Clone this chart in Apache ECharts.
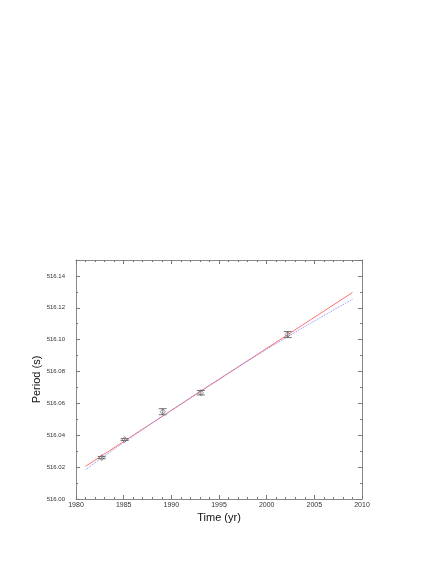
<!DOCTYPE html>
<html>
<head>
<meta charset="utf-8">
<script src="https://cdn.jsdelivr.net/npm/echarts@6/dist/echarts.min.js"></script>
<style>
  html, body { margin: 0; padding: 0; background: #fff; }
  #chart { width: 436px; height: 564px; }
</style>
</head>
<body>
<div id="chart"></div>
<script>
  // measured periods: [year, period, error]
  var obsYear = [1982.7, 1985.1, 1989.1, 1993.1, 2002.2]
  var obsPeriod = [516.0260, 516.0373, 516.0548, 516.0667, 516.1032]
  var obsErr = [0.0007, 0.0006, 0.0019, 0.0014, 0.0019]

  // linear fit (red solid)
  var linYear = [1981, 2009]
  var linPeriod = [516.0205, 516.1296]

  // quadratic fit (blue dotted)
  var quadYear = [1981, 1985, 1990, 1995, 2000, 2005, 2009]
  var quadPeriod = [516.0184, 516.0354, 516.0557, 516.0753, 516.0939, 516.1117, 516.1253]

  var font = 'Liberation Sans, Arial, sans-serif'
  var chart = echarts.init(document.getElementById('chart'))

  var obsData = []
  for (var i = 0; i < obsYear.length; i++) {
    obsData.push([obsYear[i], obsPeriod[i], obsErr[i]])
  }
  var linData = []
  for (var i = 0; i < linYear.length; i++) linData.push([linYear[i], linPeriod[i]])
  var quadData = []
  for (var i = 0; i < quadYear.length; i++) quadData.push([quadYear[i], quadPeriod[i]])

  function axisCommon() {
    return {
      axisLine: { show: true, lineStyle: { color: '#888', width: 1 } },
      axisTick: { show: true, inside: true, length: 4, lineStyle: { color: '#777' } },
      minorTick: { show: true, length: 2, lineStyle: { color: '#777' } },
      splitLine: { show: false }
    }
  }

  var xBottom = Object.assign(axisCommon(), {
    type: 'value', position: 'bottom', min: 1980, max: 2010, interval: 5,
    name: 'Time (yr)', nameLocation: 'middle', nameGap: 13, nameMoveOverlap: false,
    nameTextStyle: { fontFamily: font, fontSize: 11, color: '#111' },
    axisLabel: {
      fontFamily: font, fontSize: 7, color: '#333', margin: 3,
      formatter: function (v) { return String(v) }
    }
  })
  xBottom.minorTick.splitNumber = 5
  var xTop = Object.assign(axisCommon(), {
    type: 'value', position: 'top', min: 1980, max: 2010, interval: 5,
    axisLabel: { show: false }
  })
  xTop.minorTick.splitNumber = 5

  var yLeft = Object.assign(axisCommon(), {
    type: 'value', position: 'left', min: 516.00, max: 516.15, interval: 0.02,
    name: 'Period (s)', nameLocation: 'middle', nameGap: 34, nameMoveOverlap: false,
    nameTextStyle: { fontFamily: font, fontSize: 11, color: '#111' },
    axisLabel: {
      fontFamily: font, fontSize: 6, color: '#333', margin: 11,
      formatter: function (v) { return v > 516.145 ? '' : v.toFixed(2) }
    }
  })
  yLeft.minorTick.splitNumber = 2
  var yRight = Object.assign(axisCommon(), {
    type: 'value', position: 'right', min: 516.00, max: 516.15, interval: 0.02,
    axisLabel: { show: false }
  })
  yRight.minorTick.splitNumber = 2

  chart.setOption({
    animation: false,
    backgroundColor: '#fff',
    grid: { left: 76, right: 74, top: 260, bottom: 65, containLabel: false },
    xAxis: [xBottom, xTop],
    yAxis: [yLeft, yRight],
    series: [
      {
        name: 'linear',
        type: 'line',
        data: linData,
        showSymbol: false,
        lineStyle: { color: '#ff7070', width: 1 },
        z: 3
      },
      {
        name: 'quadratic',
        type: 'line',
        data: quadData,
        smooth: true,
        showSymbol: false,
        lineStyle: { color: '#8a8aff', width: 1, type: [1, 1] },
        z: 3
      },
      {
        name: 'err',
        type: 'custom',
        data: obsData,
        z: 4,
        renderItem: function (params, api) {
          var x = api.value(0), y = api.value(1), e = api.value(2)
          var top = api.coord([x, y + e])
          var bot = api.coord([x, y - e])
          var hw = 4
          var st = { stroke: '#777', lineWidth: 1 }
          return {
            type: 'group',
            children: [
              { type: 'line', shape: { x1: top[0], y1: top[1], x2: bot[0], y2: bot[1] }, style: st },
              { type: 'line', shape: { x1: top[0] - hw, y1: top[1], x2: top[0] + hw, y2: top[1] }, style: st },
              { type: 'line', shape: { x1: bot[0] - hw, y1: bot[1], x2: bot[0] + hw, y2: bot[1] }, style: st }
            ]
          }
        }
      },
      {
        name: 'obs',
        type: 'scatter',
        data: obsData,
        symbol: 'diamond',
        symbolSize: [5, 6],
        itemStyle: { color: 'rgba(255,255,255,0)', borderColor: '#555', borderWidth: 0.8 },
        z: 5
      }
    ]
  })
</script>
</body>
</html>
